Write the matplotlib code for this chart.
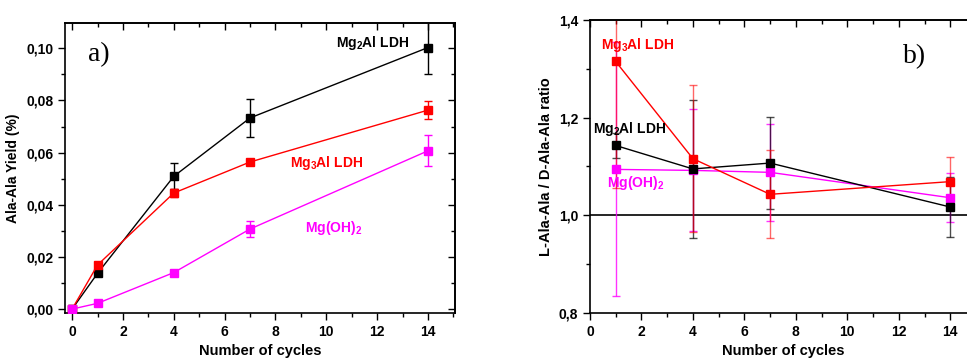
import matplotlib
matplotlib.use("Agg")
import matplotlib.pyplot as plt
from matplotlib.ticker import MultipleLocator, FuncFormatter, NullFormatter

plt.rcParams['font.family'] = ['Liberation Sans', 'DejaVu Sans']
plt.rcParams['font.weight'] = 'bold'
plt.rcParams['mathtext.fontset'] = 'custom'
plt.rcParams['mathtext.rm'] = 'Liberation Sans:bold'
plt.rcParams['mathtext.default'] = 'rm'

# panel a: yield
cycles_a = [0, 1, 4, 7, 14]
yield_mg2al = [0.0, 0.0137, 0.0509, 0.0733, 0.1003]
yield_mg2al_err = [0.0, 0.001, 0.005, 0.0073, 0.010]
yield_mg3al = [0.0, 0.0169, 0.0445, 0.0564, 0.0763]
yield_mg3al_err = [0.0, 0.001, 0.0015, 0.001, 0.0036]
yield_mgoh = [0.0, 0.0022, 0.0140, 0.0307, 0.0607]
yield_mgoh_err = [0.0, 0.0005, 0.001, 0.003, 0.006]

# panel b: L/D ratio
cycles_b = [1, 4, 7, 14]
ratio_mg2al = [1.143, 1.095, 1.107, 1.017]
ratio_mg2al_err = [0.026, 0.142, 0.095, 0.061]
ratio_mg3al = [1.315, 1.116, 1.043, 1.069]
ratio_mg3al_err = [0.26, 0.15, 0.09, 0.05]
ratio_mgoh = [1.094, 1.092, 1.088, 1.036]
ratio_mgoh_err = [0.26, 0.125, 0.10, 0.05]

BLACK = '#000000'
RED = '#ff0000'
MAG = '#ff00ff'

fig = plt.figure(figsize=(9.67, 3.6), dpi=100)
axa = fig.add_axes([0.0672, 0.1306, 0.4033, 0.8055])
axb = fig.add_axes([0.6101, 0.1306, 0.3992, 0.8139])

comma = FuncFormatter(lambda v, p: f"{v:.2f}".replace('.', ','))
comma1 = FuncFormatter(lambda v, p: f"{v:.1f}".replace('.', ','))


def style(ax, ystep, yminor):
    for s in ax.spines.values():
        s.set_linewidth(1.2)
    ax.xaxis.set_major_locator(MultipleLocator(2))
    ax.xaxis.set_minor_locator(MultipleLocator(1))
    ax.yaxis.set_major_locator(MultipleLocator(ystep))
    ax.yaxis.set_minor_locator(MultipleLocator(yminor))
    ax.tick_params(which='both', direction='out', labelsize=10, width=1)
    ax.tick_params(which='major', length=5)
    ax.tick_params(which='minor', length=3)
    # mirrored ticks pointing inward on top and right
    top = ax.secondary_xaxis('top')
    top.xaxis.set_major_locator(MultipleLocator(2))
    top.xaxis.set_minor_locator(MultipleLocator(1))
    top.xaxis.set_major_formatter(NullFormatter())
    top.tick_params(which='both', direction='in', width=1)
    top.tick_params(which='major', length=5)
    top.tick_params(which='minor', length=3)
    top.spines['top'].set_linewidth(1.2)
    right = ax.secondary_yaxis('right')
    right.yaxis.set_major_locator(MultipleLocator(ystep))
    right.yaxis.set_minor_locator(MultipleLocator(yminor))
    right.yaxis.set_major_formatter(NullFormatter())
    right.tick_params(which='both', direction='in', width=1)
    right.tick_params(which='major', length=5)
    right.tick_params(which='minor', length=3)
    right.spines['right'].set_linewidth(1.2)
    ax.set_xlabel("Number of cycles", fontsize=10.5, fontweight='bold', labelpad=4)


def series(ax, x, y, e, c, ealpha=1.0):
    ax.plot(x, y, color=c, lw=1, marker='s', ms=5.5, zorder=3)
    ax.errorbar(x, y, yerr=e, fmt='none', ecolor=c, elinewidth=1, capsize=3,
                alpha=ealpha, zorder=2)


# panel a
series(axa, cycles_a, yield_mg2al, yield_mg2al_err, BLACK)
series(axa, cycles_a, yield_mg3al, yield_mg3al_err, RED)
series(axa, cycles_a, yield_mgoh, yield_mgoh_err, MAG)
axa.set_xlim(-0.28, 15.06)
axa.set_ylim(-0.0015, 0.1097)
style(axa, 0.02, 0.01)
axa.yaxis.set_major_formatter(comma)
axa.set_ylabel("Ala-Ala Yield (%)", fontsize=10, fontweight='bold')
axa.text(0.695, 0.93, r"Mg$_2$Al LDH", transform=axa.transAxes, color=BLACK, fontsize=10, va='center')
axa.text(0.577, 0.517, r"Mg$_3$Al LDH", transform=axa.transAxes, color=RED, fontsize=10, va='center')
axa.text(0.615, 0.293, r"Mg(OH)$_2$", transform=axa.transAxes, color=MAG, fontsize=10, va='center')
axa.text(0.06, 0.89, "a)", transform=axa.transAxes, fontsize=20,
         family=['Liberation Serif', 'DejaVu Serif'], fontweight='normal', va='center')

# panel b
axb.axhline(1.0, color=BLACK, lw=1.2, zorder=1)
series(axb, cycles_b, ratio_mgoh, ratio_mgoh_err, MAG, 0.8)
series(axb, cycles_b, ratio_mg2al, ratio_mg2al_err, BLACK, 0.7)
series(axb, cycles_b, ratio_mg3al, ratio_mg3al_err, RED, 0.6)
axb.set_xlim(0, 15)
axb.set_ylim(0.8, 1.4)
style(axb, 0.2, 0.1)
axb.yaxis.set_major_formatter(comma1)
axb.set_ylabel("L-Ala-Ala / D-Ala-Ala ratio", fontsize=10.5, fontweight='bold')
axb.text(0.028, 0.915, r"Mg$_3$Al LDH", transform=axb.transAxes, color=RED, fontsize=10, va='center')
axb.text(0.008, 0.628, r"Mg$_2$Al LDH", transform=axb.transAxes, color=BLACK, fontsize=10, va='center')
axb.text(0.045, 0.444, r"Mg(OH)$_2$", transform=axb.transAxes, color=MAG, fontsize=10, va='center')
axb.text(0.81, 0.875, "b)", transform=axb.transAxes, fontsize=20,
         family=['Liberation Serif', 'DejaVu Serif'], fontweight='normal', va='center')

fig.savefig("out.png", dpi=100)
